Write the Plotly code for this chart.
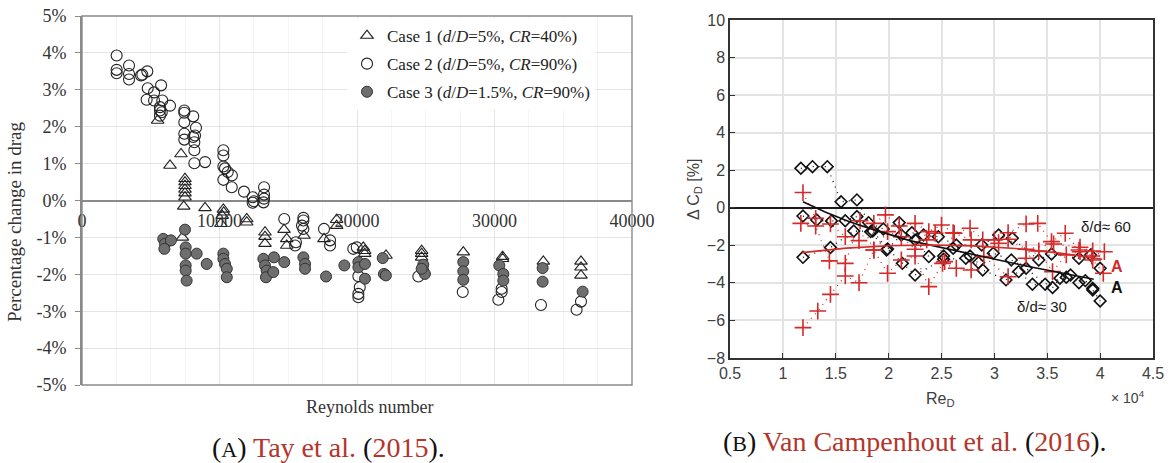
import plotly.graph_objects as go

W, H = 1168, 463

# ---------------- (A) Tay et al. (2015): drag change vs Reynolds number ----------------
case1_re = [5500, 7200, 6400, 7490, 7490, 7490, 7490, 7490, 7490, 7400, 7300, 8950,
            10280, 10300, 10200, 10100, 11980, 11980, 13310, 13310, 13310, 14690,
            14890, 14890, 16150, 17600, 18520, 18520, 20460, 20560, 20560, 22110,
            24700, 24700, 24700, 27730, 30590, 30590, 33550, 36290, 36290, 36290]
case1_pct = [2.17, 1.26, 0.95, 0.59, 0.50, 0.40, 0.30, 0.20, 0.09, -0.16, -1.00, -0.20,
             -0.24, -0.32, -0.41, -0.63, -0.50, -0.59, -0.86, -0.98, -1.17, -0.79,
             -1.04, -1.22, -0.95, -1.04, -0.52, -0.68, -1.27, -1.36, -1.44, -1.49,
             -1.36, -1.44, -1.54, -1.40, -1.52, -1.58, -1.65, -1.65, -1.81, -2.03]

case2_re = [2520, 2520, 2520, 3420, 3420, 3420, 4290, 4390, 4750, 4780, 5240, 4700,
            5750, 5240, 5840, 5670, 5670, 5800, 5670, 6400, 7440, 7440, 7440, 8090,
            8290, 8220, 8090, 7440, 7440, 8170, 8170, 8170, 8950, 10280, 10280, 10280,
            10400, 10600, 10900, 10280, 10890, 11780, 12410, 12500, 12410, 13240, 13240,
            13240, 13200, 14710, 16100, 16100, 16000, 16100, 15560, 15500, 17600, 18040,
            18040, 19730, 19980, 20100, 20200, 20100, 20100, 24460, 27690, 30520, 30520,
            30280, 33380, 36290, 35970]
case2_pct = [3.93, 3.54, 3.45, 3.66, 3.43, 3.28, 3.39, 3.41, 3.50, 3.04, 2.93, 2.73,
             3.12, 2.71, 2.71, 2.53, 2.44, 2.39, 2.30, 2.57, 2.44, 2.38, 2.12, 2.28,
             1.97, 1.76, 1.72, 1.81, 1.65, 1.58, 1.36, 1.01, 1.04, 1.36, 1.22,
             0.92, 0.87, 0.77, 0.68, 0.56, 0.36, 0.24, 0.09, -0.02, -0.06, 0.36, 0.16,
             0.05, -0.05, -0.50, -0.47, -0.54, -0.68, -0.77, -1.13, -1.22, -0.77, -1.08,
             -1.22, -1.31, -1.27, -2.05, -2.35, -2.53, -2.62, -2.06, -2.48, -2.39, -2.48,
             -2.69, -2.83, -2.74, -2.96]

case3_re = [5910, 6040, 6470, 5990, 7490, 7540, 7540, 8340, 9070, 7540, 7540, 7610,
            10280, 10280, 10400, 10530, 10530, 13190, 13310, 13430, 13380, 13960, 13910,
            14710, 16100, 16220, 16220, 17750, 19080, 20100, 20100, 20580, 20580, 21870,
            21960, 22100, 24820, 24820, 24940, 24700, 27730, 27730, 27730, 30350, 30640,
            30640, 33500, 33500, 36410]
case3_pct = [-1.04, -1.17, -1.08, -1.31, -0.79, -1.27, -1.44, -1.44, -1.72, -1.76, -1.90, -2.17,
             -1.44, -1.58, -1.72, -1.85, -2.08, -1.58, -1.76, -1.90, -2.08, -1.54, -1.94,
             -1.67, -1.54, -1.72, -1.85, -2.06, -1.76, -1.67, -1.81, -1.72, -2.12, -1.56,
             -1.99, -2.03, -1.74, -1.90, -1.99, -1.85, -1.67, -1.92, -2.15, -1.76, -1.99,
             -2.17, -1.83, -2.20, -2.47]

legend_labels = ["Case 1 (<i>d</i>/<i>D</i>=5%, <i>CR</i>=40%)",
                 "Case 2 (<i>d</i>/<i>D</i>=5%, <i>CR</i>=90%)",
                 "Case 3 (<i>d</i>/<i>D</i>=1.5%, <i>CR</i>=90%)"]

a_xticks = [0, 10000, 20000, 30000, 40000]
a_yticks = [-5, -4, -3, -2, -1, 0, 1, 2, 3, 4, 5]
a_yticklabels = [f"{v}%" for v in a_yticks]

# ---------------- (B) Van Campenhout et al. (2016): delta C_D vs Re_D ----------------
# delta/d ~ 30 (black diamonds), grouped into the measurement runs joined by dotted lines
k_runs_x = [
    [1.17, 1.28, 1.42, 1.55, 1.70, 1.81, 1.95, 2.10, 2.22, 2.33, 2.47, 2.64, 2.88, 3.04,
     3.17, 3.42, 3.54, 3.80, 3.91, 4.00],
    [1.19, 1.32, 1.46, 1.59, 1.70, 1.83, 1.98, 2.12, 2.25, 2.38, 2.52, 2.61, 2.77, 2.99,
     3.16, 3.30, 3.48, 3.68],
    [1.19, 1.45, 1.67, 1.85, 1.99, 2.13, 2.25, 2.52, 2.73, 2.85, 2.89, 3.11, 3.23, 3.36,
     3.55, 3.62, 3.72, 3.80, 3.86, 3.93, 3.93, 4.00],
]
k_runs_y = [
    [2.10, 2.19, 2.19, 0.32, 0.42, -0.79, -1.13, -0.79, -1.33, -1.45, -1.54, -1.98, -1.98, -1.45,
     -1.62, -2.78, -2.46, -2.69, -2.51, -3.22],
    [-0.44, -0.65, -0.70, -0.69, -0.47, -1.27, -2.25, -1.45, -1.71, -2.60, -2.57, -2.16, -2.57, -2.42,
     -2.78, -3.22, -4.07, -3.70],
    [-2.64, -2.12, -1.24, -1.24, -2.19, -2.96, -3.58, -2.74, -2.69, -2.92, -3.31, -3.84, -3.40, -4.07,
     -4.25, -3.75, -3.58, -3.99, -3.88, -4.29, -4.38, -4.96],
]

# delta/d ~ 60 (red crosses)
r_runs_x = [
    [1.19, 1.33, 1.45, 1.59, 1.72, 1.86, 1.99, 2.12, 2.25, 2.38, 2.51, 2.64, 2.78, 2.90,
     3.13, 3.30, 3.42, 3.55, 3.68, 3.81, 3.93, 4.03],
    [1.19, 1.31, 1.45, 1.59, 1.72, 1.86, 1.97, 2.10, 2.25, 2.38, 2.50, 2.62, 2.77, 2.89,
     3.04, 3.13, 3.30, 3.41, 3.54, 3.67, 3.80, 3.92, 4.04],
    [1.17, 1.31, 1.44, 1.59, 1.73, 1.86, 1.99, 2.12, 2.25, 2.36, 2.44, 2.53, 2.61, 2.78,
     3.00, 3.13, 3.30, 3.56, 3.81, 3.93],
]
r_runs_y = [
    [-6.38, -5.50, -4.61, -3.63, -3.99, -2.25, -3.49, -2.78, -2.57, -4.20, -2.96, -3.22, -3.31, -2.60,
     -3.67, -2.69, -2.30, -3.40, -2.51, -2.34, -2.78, -3.49],
    [0.81, -0.56, -0.86, -1.54, -1.75, -0.83, -0.38, -0.97, -0.83, -1.27, -0.92, -1.36, -1.09, -1.71,
     -1.89, -1.33, -0.86, -0.83, -1.80, -1.36, -2.25, -2.57, -2.34],
    [-0.83, -0.97, -2.83, -2.96, -0.69, -2.25, -1.27, -1.54, -2.21, -1.71, -1.36, -2.87, -1.33, -1.71,
     -1.71, -1.68, -2.21, -1.93, -2.10, -2.30],
]

# fitted trend curves
k_fit_x = [1.19, 1.40, 1.63, 1.85, 2.20, 2.67, 3.30, 3.94]
k_fit_y = [0.32, -0.22, -0.74, -1.15, -1.75, -2.34, -3.10, -3.81]
r_fit_x = [1.18, 1.60, 2.00, 2.40, 2.80, 3.20, 3.60, 4.02]
r_fit_y = [-2.39, -2.15, -2.02, -1.98, -2.03, -2.17, -2.40, -2.74]

b_xticks = [0.5, 1, 1.5, 2, 2.5, 3, 3.5, 4, 4.5]
b_xticklabels = ["0.5", "1", "1.5", "2", "2.5", "3", "3.5", "4", "4.5"]
b_yticks = [-8, -6, -4, -2, 0, 2, 4, 6, 8, 10]

BLACK = "#111111"
RED = "#d42a2a"
SERIF = "Liberation Serif, Times New Roman, serif"
SANS = "Liberation Sans, Arial, Helvetica, sans-serif"
CAPRED = "#b3362c"


def px(x):
    return x / W


def py(y):
    return 1 - y / H


fig = go.Figure()

# ---- panel A traces (one legend group each so the rows can be spaced) ----
fig.add_trace(go.Scatter(
    x=case1_re, y=case1_pct, mode="markers", name=legend_labels[0], legendgroup="c1",
    marker=dict(symbol="triangle-up-open", size=11, color="#222222", line=dict(width=1.1)),
    xaxis="x", yaxis="y"))
fig.add_trace(go.Scatter(
    x=case2_re, y=case2_pct, mode="markers", name=legend_labels[1], legendgroup="c2",
    marker=dict(symbol="circle-open", size=11, color="#222222", line=dict(width=1.1)),
    xaxis="x", yaxis="y"))
fig.add_trace(go.Scatter(
    x=case3_re, y=case3_pct, mode="markers", name=legend_labels[2], legendgroup="c3",
    marker=dict(symbol="circle", size=11, color="#6e6e6e", line=dict(width=1, color="#333333")),
    xaxis="x", yaxis="y"))

# ---- panel B traces ----
for xs, ys in zip(r_runs_x, r_runs_y):
    fig.add_trace(go.Scatter(
        x=xs, y=ys, mode="lines", showlegend=False, hoverinfo="skip",
        line=dict(color=RED, width=1.3, dash="1px,5px"), xaxis="x2", yaxis="y2"))
for xs, ys in zip(k_runs_x, k_runs_y):
    fig.add_trace(go.Scatter(
        x=xs, y=ys, mode="lines", showlegend=False, hoverinfo="skip",
        line=dict(color=BLACK, width=1.3, dash="1px,5px"), xaxis="x2", yaxis="y2"))
for xs, ys in zip(k_runs_x, k_runs_y):
    fig.add_trace(go.Scatter(
        x=xs, y=ys, mode="markers", showlegend=False,
        marker=dict(symbol="diamond-open", size=9, color=BLACK, line=dict(width=1.6)),
        xaxis="x2", yaxis="y2"))
for xs, ys in zip(r_runs_x, r_runs_y):
    fig.add_trace(go.Scatter(
        x=xs, y=ys, mode="markers", showlegend=False,
        marker=dict(symbol="cross-thin", size=12, color=RED, line=dict(width=1.6, color=RED)),
        xaxis="x2", yaxis="y2"))
fig.add_trace(go.Scatter(x=k_fit_x, y=k_fit_y, mode="lines", showlegend=False,
                         line=dict(color=BLACK, width=1.6), xaxis="x2", yaxis="y2"))
fig.add_trace(go.Scatter(x=r_fit_x, y=r_fit_y, mode="lines", showlegend=False,
                         line=dict(color=RED, width=1.6), xaxis="x2", yaxis="y2"))

# ---- layout ----
a_top, a_bot = 16, 385
a_zero_frac = py(200)

fig.update_layout(
    width=W, height=H,
    margin=dict(l=0, r=0, t=0, b=0, autoexpand=False),
    paper_bgcolor="white", plot_bgcolor="white",
    showlegend=True,
    legend=dict(x=px(347), y=py(18), xanchor="left", yanchor="top",
                bgcolor="white", borderwidth=0,
                font=dict(family=SERIF, size=17, color="#222222"),
                tracegroupgap=3, itemwidth=30),
    xaxis=dict(domain=[px(82), px(632)], range=[0, 40000], anchor="free", position=a_zero_frac,
               automargin=False,
               tickvals=a_xticks, ticktext=[str(v) for v in a_xticks],
               showgrid=True, gridcolor="#e4e4e4", gridwidth=1,
               minor=dict(dtick=2500, showgrid=True, gridcolor="#f5f5f5", gridwidth=1),
               showline=False, zeroline=False, ticks="", ticklabelstandoff=8,
               tickfont=dict(family=SERIF, size=18, color="#333333")),
    yaxis=dict(domain=[py(a_bot), py(a_top)], range=[-5, 5], anchor="x", automargin=False,
               tickvals=a_yticks, ticktext=a_yticklabels,
               showgrid=True, gridcolor="#e4e4e4", gridwidth=1,
               zeroline=True, zerolinecolor="#8a8a8a", zerolinewidth=1.6,
               showline=True, linecolor="#8a8a8a", linewidth=1.6,
               ticks="outside", ticklen=5, tickcolor="#8a8a8a", ticklabelstandoff=5,
               tickfont=dict(family=SERIF, size=18, color="#333333")),
    xaxis2=dict(domain=[px(730), px(1153)], range=[0.5, 4.5], anchor="y2", automargin=False,
                tickvals=b_xticks, ticktext=b_xticklabels,
                showgrid=True, gridcolor="#e3e3e3", gridwidth=1.5,
                zeroline=False, showline=True, mirror=True, linecolor="#333333", linewidth=1.5,
                ticks="inside", ticklen=5, tickcolor="#333333",
                tickfont=dict(family=SANS, size=16, color="#404040")),
    yaxis2=dict(domain=[py(358), py(20)], range=[-8, 10], anchor="x2", automargin=False,
                tickvals=b_yticks,
                showgrid=True, gridcolor="#e3e3e3", gridwidth=1.5,
                zeroline=True, zerolinecolor="#1a1a1a", zerolinewidth=2,
                showline=True, mirror=True, linecolor="#333333", linewidth=1.5,
                ticks="inside", ticklen=5, tickcolor="#333333",
                tickfont=dict(family=SANS, size=16, color="#404040")),
)

# plot-area frame for panel A
fig.add_shape(type="rect", xref="x domain", yref="y domain", x0=0, x1=1, y0=0, y1=1,
              line=dict(color="#8a8a8a", width=1.4), layer="above")

C = dict(xanchor="center", yanchor="middle", showarrow=False)
annotations = [
    # panel A axis titles
    dict(text="Percentage change in drag", x=px(15), y=py(222), xref="paper", yref="paper",
         textangle=-90, font=dict(family=SERIF, size=19, color="#333333"), **C),
    dict(text="Reynolds number", x=px(370), y=py(407), xref="paper", yref="paper",
         font=dict(family=SERIF, size=18, color="#333333"), **C),
    # panel B axis titles
    dict(text="Δ C<sub>D</sub> [%]", x=px(694), y=py(190), xref="paper", yref="paper",
         textangle=-90, font=dict(family=SANS, size=16, color="#404040"), **C),
    dict(text="Re<sub>D</sub>", x=px(940), y=py(399), xref="paper", yref="paper",
         font=dict(family=SANS, size=16, color="#404040"), **C),
    dict(text="× 10<sup>4</sup>", x=px(1128), y=py(397), xref="paper", yref="paper",
         font=dict(family=SANS, size=14, color="#404040"), **C),
    # panel B in-plot labels
    dict(text="δ/d≈ 60", x=4.06, y=-1.02, xref="x2", yref="y2",
         font=dict(family=SANS, size=15, color="#1a1a1a"), **C),
    dict(text="δ/d≈ 30", x=3.45, y=-5.28, xref="x2", yref="y2",
         font=dict(family=SANS, size=15, color="#1a1a1a"), **C),
    dict(text="<b>A</b>", x=4.16, y=-3.14, xref="x2", yref="y2",
         font=dict(family=SANS, size=16, color=RED), **C),
    dict(text="<b>A</b>", x=4.16, y=-4.26, xref="x2", yref="y2",
         font=dict(family=SANS, size=16, color=BLACK), **C),
    # captions
    dict(text=f"(<span style='font-size:22px'>A</span>) <span style='color:{CAPRED}'>Tay et al.</span> "
              f"(<span style='color:{CAPRED}'>2015</span>).",
         x=px(328), y=py(447), xref="paper", yref="paper",
         font=dict(family=SERIF, size=28, color="#111111"), **C),
    dict(text=f"(<span style='font-size:22px'>B</span>) <span style='color:{CAPRED}'>Van Campenhout et al.</span> "
              f"(<span style='color:{CAPRED}'>2016</span>).",
         x=px(915), y=py(441), xref="paper", yref="paper",
         font=dict(family=SERIF, size=28, color="#111111"), **C),
]
fig.update_layout(annotations=annotations)

fig.write_html("out.html")
